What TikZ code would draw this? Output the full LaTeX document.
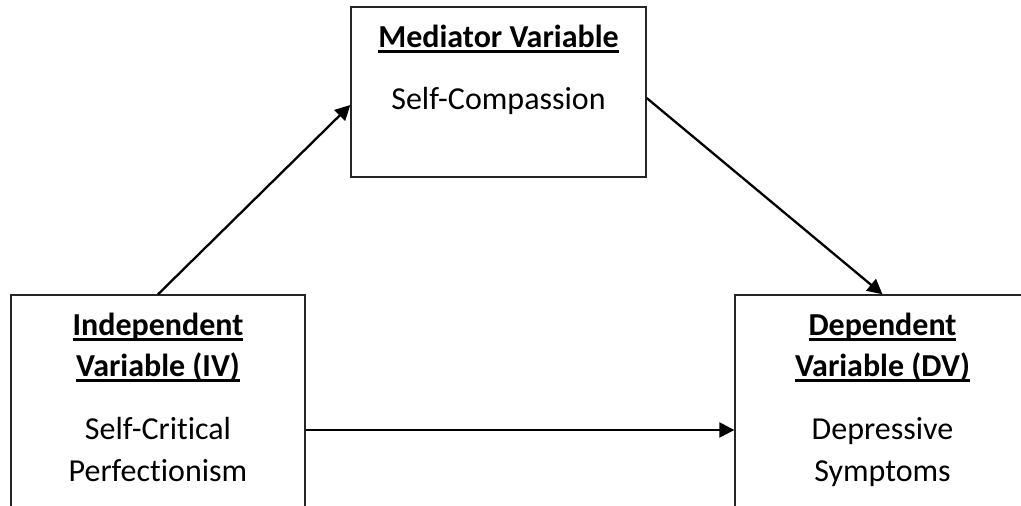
\documentclass[tikz,border=0pt]{standalone}
\usepackage{fontspec}
\setmainfont[Ligatures=NoCommon]{Carlito}
\usetikzlibrary{arrows.meta}
\newcommand\ulbox[1]{\setbox0\hbox{#1}\rlap{\rule[-5.5pt]{\wd0}{3pt}}\box0}
\tikzset{
  varbox/.style={draw=black!85, line width=1.3pt, minimum width=295pt, inner sep=0pt},
  lbl/.style={anchor=base, inner sep=0pt, font=\fontsize{32}{40}\selectfont},
  hd/.style={lbl, font=\fontsize{32}{40}\selectfont\bfseries},
  link/.style={line width=2.3pt, -{Triangle[length=15pt,width=15pt]}}
}
\begin{document}
\begin{tikzpicture}[x=1pt,y=1pt]
\useasboundingbox (0,0) rectangle (1021,506);
\clip (0,0) rectangle (1021,506);
\fill[white] (0,0) rectangle (1021,506);
% boxes
\node[varbox, minimum height=170pt] (med) at (498.5,414) {};
\node[varbox, minimum width=294pt, minimum height=270pt] (iv) at (158,76) {};
\node[varbox, minimum height=270pt] (dv) at (882.5,76) {};
% texts
\node[hd] (medh) at (498.5,458) {\ulbox{Mediator Variable}};
\node[lbl] (medt) at (498.5,396) {Self-Compassion};
\node[hd] (ivh1) at (158,170) {\ulbox{Independent}};
\node[hd] (ivh2) at (158,129) {\ulbox{Variable (IV)}};
\node[lbl] (ivt1) at (158,66) {Self-Critical};
\node[lbl] (ivt2) at (158,24) {Perfectionism};
\node[hd] (dvh1) at (882.5,170) {\ulbox{Dependent}};
\node[hd] (dvh2) at (882.5,129) {\ulbox{Variable (DV)}};
\node[lbl] (dvt1) at (882.5,66) {Depressive};
\node[lbl] (dvt2) at (882.5,24) {Symptoms};
% connectors
\draw[link] (iv.north) -- ([yshift=-13pt]med.west);
\draw[link] ([yshift=-6pt]med.east) -- (dv.north);
\draw[link] (iv.east) -- (dv.west);
\end{tikzpicture}
\end{document}
